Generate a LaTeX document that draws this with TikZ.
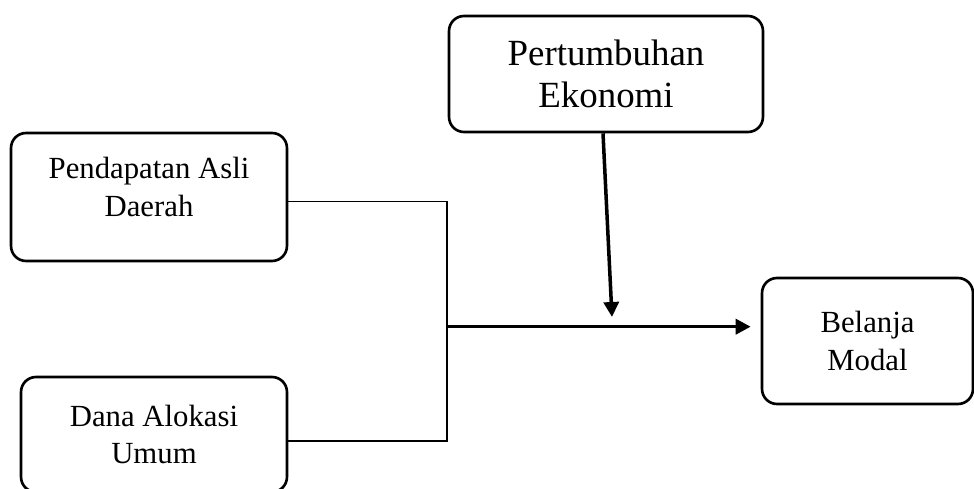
\documentclass[tikz,border=0pt]{standalone}
\usepackage{fontspec}
\setmainfont{Liberation Serif}
\usepackage{tikz}
\usetikzlibrary{arrows.meta,positioning}

\begin{document}
\begin{tikzpicture}[x=0.02cm,y=-0.02cm,
                   box/.style={draw,line width=1.5pt,rounded corners=0.3cm,align=center,inner sep=0pt,
                   font=\fontsize{17.5}{21.5}\selectfont},
                   link/.style={line width=0.75pt},
                   flow/.style={line width=2pt,-{Triangle[length=0.3cm,width=0.3cm]}}]
\useasboundingbox (0,0) rectangle (974,489);
\node[box,minimum width=5.52cm,minimum height=2.56cm] (pad) at (149,197) {Pendapatan Asli\\Daerah\\[-0.36cm]\mbox{}};
\node[box,minimum width=5.32cm,minimum height=2.3cm] (dau) at (154,434.5) {Dana Alokasi\\Umum};
\node[box,minimum width=6.28cm,minimum height=2.32cm,font=\fontsize{21}{24}\selectfont] (pe) at (606,74) {Pertumbuhan\\Ekonomi};
\node[box,minimum width=4.22cm,minimum height=2.52cm] (bm) at (867.5,341) {Belanja\\Modal};
\coordinate (top) at (447,201.7);
\coordinate (bot) at (447,441);
\coordinate (mid) at (447,326.7);
\coordinate (hit) at (612,317);
\draw[link] (pad.east |- top) -- (top) -- (bot) -- (dau.east |- bot);
\draw[flow] (mid) -- ([xshift=-0.2cm]mid -| bm.west);
\draw[flow] ([xshift=-0.06cm]pe.south) -- (hit);
\end{tikzpicture}
\end{document}
